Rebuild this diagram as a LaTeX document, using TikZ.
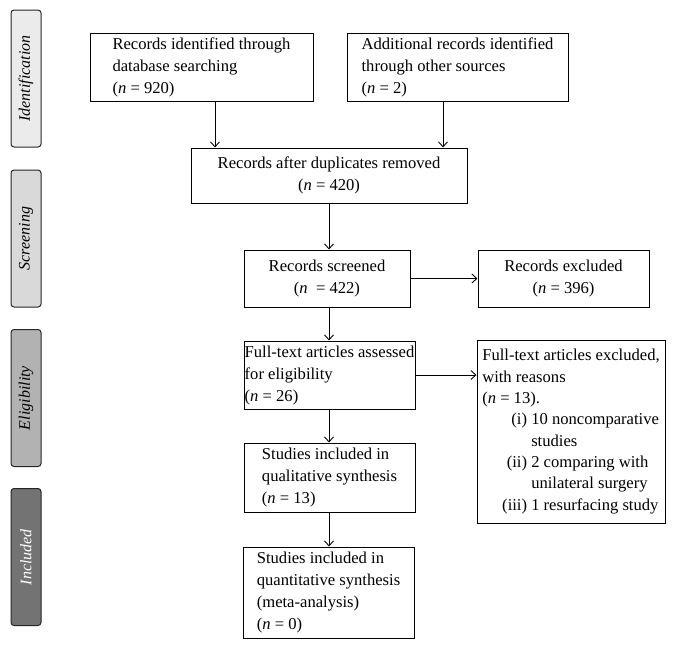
\documentclass[tikz,border=0pt]{standalone}
\usepackage{fontspec}
\setmainfont{Liberation Serif}
\usetikzlibrary{arrows.meta}

\begin{document}
\begin{tikzpicture}[
    x=1pt, y=-1pt,
    box/.style={draw, line width=1pt, inner sep=0pt, font=\fontsize{16.6}{22}\selectfont},
    stage/.style={draw=black!85, line width=1pt, rounded corners=3pt, rotate=90,
                  minimum width=137pt, minimum height=30pt, inner sep=0pt,
                  font=\fontsize{16}{20}\selectfont\itshape},
    arrow/.style={-{Straight Barb[length=5pt,width=9pt]}, line width=0.9pt}
]
    \useasboundingbox (0,0) rectangle (676,649);

    % Stages
    \node[stage, fill=black!8] (ident) at (26,78.5) {Identification};
    \node[stage, fill=black!15] (screen) at (26,238.5) {Screening};
    \node[stage, fill=black!30] (elig) at (26,398) {Eligibility};
    \node[stage, fill=black!55, text=white] (incl) at (26,557) {Included};

    % Identification
    \node[box, align=left, minimum width=223pt, minimum height=68pt] (db) at (201.5,67)
        {Records identified through\\database searching\\(\textit{n} = 920)};
    \node[box, align=left, minimum width=221pt, minimum height=68pt] (other) at (457.5,67)
        {Additional records identified\\through other sources\\(\textit{n} = 2)};
    \node[box, align=center, minimum width=276pt, minimum height=55pt] (dup) at (329,175.5)
        {Records after duplicates removed\\(\textit{n} = 420)};

    % Screening
    \node[box, align=center, minimum width=166pt, minimum height=57pt] (screened) at (327,278.5)
        {Records screened\\(\textit{n}\ \ = 422)};
    \node[box, align=center, minimum width=171pt, minimum height=57pt] (excl) at (563.5,278.5)
        {Records excluded\\(\textit{n} = 396)};

    % Eligibility
    \node[box, align=left, minimum width=171pt, minimum height=68pt] (full) at (329.5,375)
        {Full-text articles assessed\\for eligibility\\(\textit{n} = 26)};
    \node[box, align=left, minimum width=188pt, minimum height=183pt,
          font=\fontsize{16.6}{21.3}\selectfont] (reasons) at (571,431.5)
        {Full-text articles excluded,\\with reasons\\(\textit{n} = 13).\\
         \hspace*{49pt}\llap{(i) }10 noncomparative\\
         \hspace*{49pt}studies\\
         \hspace*{49pt}\llap{(ii) }2 comparing with\\
         \hspace*{49pt}unilateral surgery\\
         \hspace*{49pt}\llap{(iii) }1 resurfacing study};

    % Included
    \node[box, align=left, minimum width=171pt, minimum height=69pt] (qual) at (329.5,477.5)
        {Studies included in\\qualitative synthesis\\(\textit{n} = 13)};
    \node[box, align=left, minimum width=171pt, minimum height=91pt] (quant) at (328.5,592.5)
        {Studies included in\\quantitative synthesis\\(meta-analysis)\\(\textit{n} = 0)};

    % Arrows
    \draw[arrow] ([xshift=13.5pt]db.south) -- ([xshift=13.5pt]db.south |- dup.north);
    \draw[arrow] ([xshift=-14.5pt]other.south) -- ([xshift=-14.5pt]other.south |- dup.north);
    \draw[arrow] (dup.south) -- (dup.south |- screened.north);
    \draw[arrow] (screened.east) -- (excl.west);
    \draw[arrow] (screened.south -| dup.south) -- (dup.south |- full.north);
    \draw[arrow] (full.east) -- (full.east -| reasons.west);
    \draw[arrow] (full.south -| dup.south) -- (dup.south |- qual.north);
    \draw[arrow] (qual.south -| dup.south) -- (dup.south |- quant.north);
\end{tikzpicture}
\end{document}
